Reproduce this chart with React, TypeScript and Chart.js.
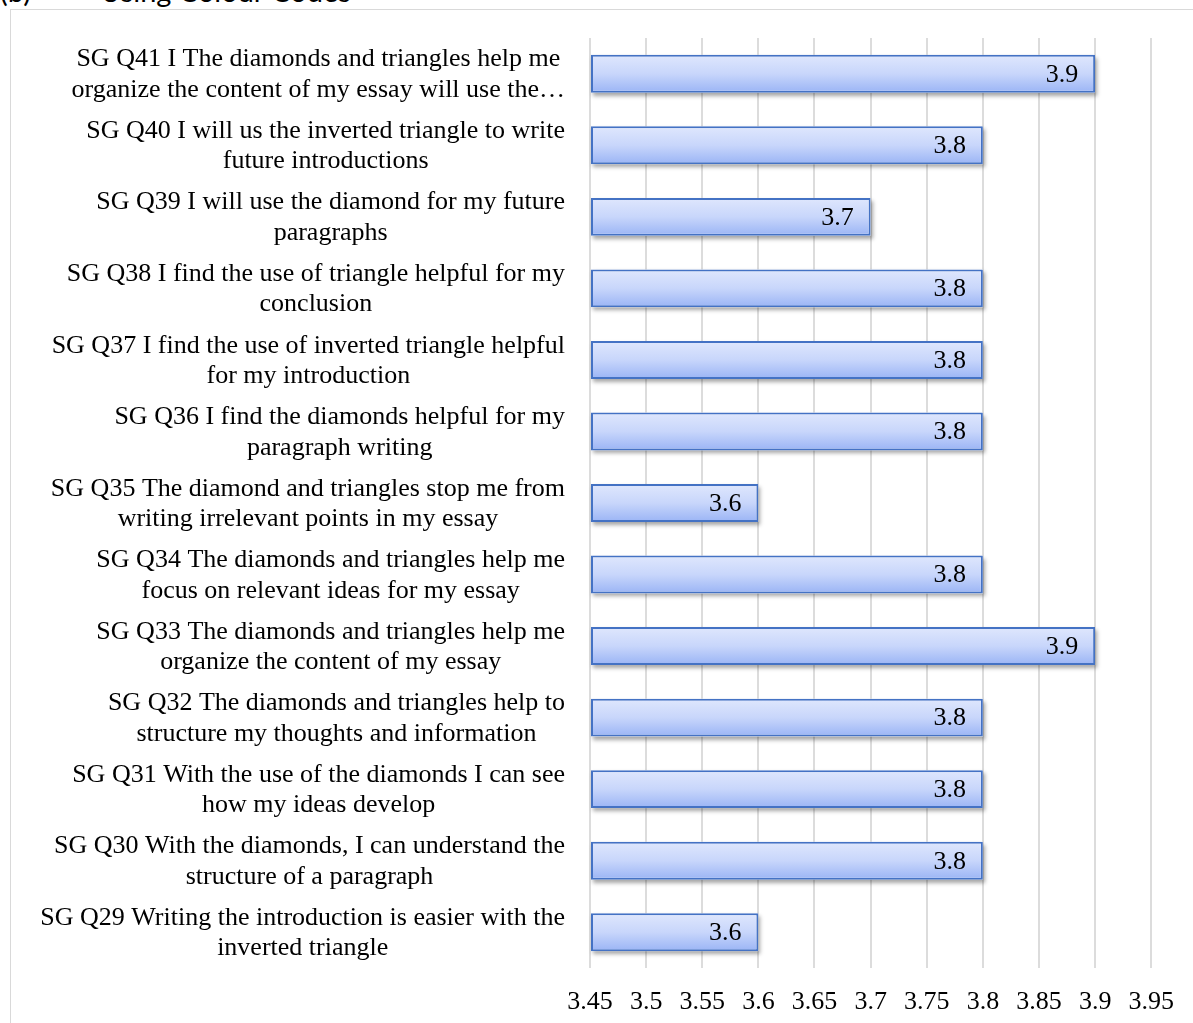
import React, { useEffect, useRef } from "react";
import { Chart, registerables } from "chart.js";

Chart.register(...registerables);

const questionLabels: string[][] = [
  ["SG Q41 I The diamonds and triangles help me", "organize the content of my essay will use the…"],
  ["SG Q40 I will us the inverted triangle to write", "future introductions"],
  ["SG Q39 I will use the diamond for my future", "paragraphs"],
  ["SG Q38 I find the use of triangle helpful for my", "conclusion"],
  ["SG Q37 I find the use of inverted triangle helpful", "for my introduction"],
  ["SG Q36 I find the diamonds helpful for my", "paragraph writing"],
  ["SG Q35 The diamond and triangles stop me from", "writing irrelevant points in my essay"],
  ["SG Q34 The diamonds and triangles help me", "focus on relevant ideas for my essay"],
  ["SG Q33 The diamonds and triangles help me", "organize the content of my essay"],
  ["SG Q32 The diamonds and triangles help to", "structure my thoughts and information"],
  ["SG Q31 With the use of the diamonds I can see", "how my ideas develop"],
  ["SG Q30 With the diamonds, I can understand the", "structure of a paragraph"],
  ["SG Q29 Writing the introduction is easier with the", "inverted triangle"],
];

const meanScores: number[] = [3.9, 3.8, 3.7, 3.8, 3.8, 3.8, 3.6, 3.8, 3.9, 3.8, 3.8, 3.8, 3.6];

const axisMin = 3.45;
const axisMax = 3.95;
const axisStep = 0.05;

const SERIF = "'Liberation Serif', 'Times New Roman', serif";
const FONT_SIZE = 26;

const customPlugin = {
  id: "customDraw",
  beforeDatasetsDraw(chart: any) {
    const ctx = chart.ctx;
    const meta = chart.getDatasetMeta(0);
    const area = chart.chartArea;
    meta.data.forEach((el: any) => {
      const p = el.getProps(["x", "y", "base", "height"], true);
      const left = Math.max(p.base, area.left);
      ctx.save();
      ctx.shadowColor = "rgba(0,0,0,0.35)";
      ctx.shadowBlur = 4;
      ctx.shadowOffsetX = 2;
      ctx.shadowOffsetY = 3;
      ctx.fillStyle = "#ffffff";
      ctx.fillRect(left, p.y - p.height / 2, p.x - left, p.height);
      ctx.restore();
    });
  },
  afterDatasetsDraw(chart: any) {
    const ctx = chart.ctx;
    const meta = chart.getDatasetMeta(0);
    ctx.save();
    ctx.font = `${FONT_SIZE}px ${SERIF}`;
    ctx.fillStyle = "#000000";
    ctx.textAlign = "right";
    ctx.textBaseline = "middle";
    meta.data.forEach((el: any, i: number) => {
      const p = el.getProps(["x", "y"], true);
      ctx.fillText(String(meanScores[i]), p.x - 17, p.y + 1);
    });
    ctx.restore();
  },
  afterDraw(chart: any) {
    const ctx = chart.ctx;
    const yScale = chart.scales.y;
    const right = chart.chartArea.left - 25;
    const lineH = 30.5;
    ctx.save();
    ctx.font = `${FONT_SIZE}px ${SERIF}`;
    ctx.fillStyle = "#000000";
    ctx.textAlign = "center";
    ctx.textBaseline = "middle";
    questionLabels.forEach((lines, i) => {
      const yc = yScale.getPixelForValue(i) + 1;
      const w = Math.max(...lines.map((l) => ctx.measureText(l).width));
      const cx = right - w / 2;
      const y0 = yc - ((lines.length - 1) * lineH) / 2;
      lines.forEach((l, j) => ctx.fillText(l, cx, y0 + j * lineH));
    });
    ctx.restore();
  },
};

export default function App() {
  const canvasRef = useRef<HTMLCanvasElement | null>(null);

  useEffect(() => {
    if (!canvasRef.current) return;
    const chart = new Chart(canvasRef.current, {
      type: "bar",
      data: {
        labels: questionLabels.map((l) => l.join(" ")),
        datasets: [
          {
            data: meanScores,
            base: axisMin,
            backgroundColor: (context: any) => {
              const c = context.chart;
              const area = c.chartArea;
              if (!area) return "#bccdfa";
              const yc = c.scales.y.getPixelForValue(context.dataIndex);
              const h = ((area.bottom - area.top) / meanScores.length) * 0.53;
              const g = c.ctx.createLinearGradient(0, yc - h / 2, 0, yc + h / 2);
              g.addColorStop(0, "#dfe7fd");
              g.addColorStop(0.5, "#c8d6fb");
              g.addColorStop(1, "#9ab4f5");
              return g;
            },
            borderColor: "#4472c4",
            borderWidth: 2,
            borderSkipped: false,
            categoryPercentage: 1,
            barPercentage: 0.53,
          } as any,
        ],
      },
      options: {
        indexAxis: "y",
        animation: false,
        responsive: true,
        maintainAspectRatio: false,
        layout: { padding: { top: 38, right: 40, bottom: 0, left: 0 } },
        plugins: {
          legend: { display: false },
          tooltip: { enabled: false },
        },
        scales: {
          x: {
            min: axisMin,
            max: axisMax,
            grid: { color: "#dcdcdc", lineWidth: 2, drawTicks: false },
            border: { display: false },
            ticks: {
              stepSize: axisStep,
              padding: 19,
              color: "#000000",
              font: { family: SERIF, size: FONT_SIZE },
              callback: (v: any) => String(Math.round(Number(v) * 100) / 100),
            },
            afterFit: (scale: any) => {
              scale.height = 55;
            },
          },
          y: {
            grid: { display: false },
            border: { display: false },
            ticks: { display: false },
            afterFit: (scale: any) => {
              scale.width = 590;
            },
          },
        },
      },
      plugins: [customPlugin],
    });
    return () => chart.destroy();
  }, []);

  return (
    <div
      style={{
        position: "absolute",
        left: 0,
        top: 0,
        width: 1193,
        height: 1023,
        overflow: "hidden",
        background: "#ffffff",
      }}
    >
      <div
        style={{
          position: "absolute",
          left: 0,
          top: -25,
          fontFamily: "Lato, 'Open Sans', sans-serif",
          fontSize: 29,
          lineHeight: "32px",
          whiteSpace: "nowrap",
          color: "#000",
        }}
      >
        <span style={{ position: "absolute", left: 0 }}>(b)</span>
        <span style={{ position: "absolute", left: 100 }}>Using Colour Codes</span>
      </div>
      <div
        style={{
          position: "absolute",
          left: 10,
          top: 9,
          width: 1200,
          height: 1100,
          border: "1px solid #d9d9d9",
          boxSizing: "border-box",
        }}
      />
      <div style={{ position: "absolute", left: 0, top: 0, width: 1193, height: 1023 }}>
        <canvas ref={canvasRef} />
      </div>
    </div>
  );
}
